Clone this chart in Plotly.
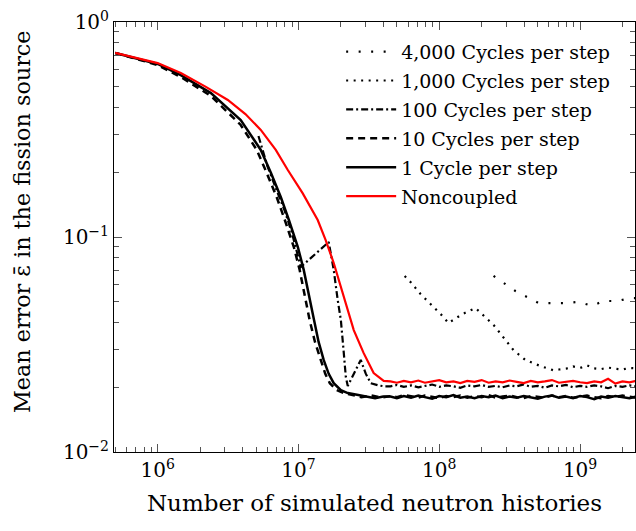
import plotly.graph_objects as go

# ---------------- data ----------------
floor_x = [4.5e7, 5.0e7, 5.6e7, 6.3e7, 7.1e7, 7.9e7, 8.9e7, 1.0e8, 1.12e8, 1.26e8,
           1.41e8, 1.58e8, 1.78e8, 2.0e8, 2.24e8, 2.51e8, 2.82e8, 3.16e8, 3.55e8, 3.98e8,
           4.47e8, 5.01e8, 5.62e8, 6.31e8, 7.08e8, 7.94e8, 8.91e8, 1.0e9, 1.12e9, 1.26e9,
           1.41e9, 1.58e9, 1.78e9, 2.0e9, 2.24e9, 2.5e9]

# Noncoupled
noncoupled_x = [5e5, 1e6, 1.46e6, 2.2e6, 3.15e6, 4.2e6, 5.4e6, 6.9e6, 8.4e6, 1.07e7,
                1.37e7, 1.56e7, 1.78e7, 2.09e7, 2.47e7, 2.9e7, 3.42e7, 4.03e7] + floor_x
noncoupled_y = [0.718, 0.644, 0.579, 0.499, 0.434, 0.373, 0.315, 0.254, 0.205, 0.160,
                0.120, 0.0968, 0.0757, 0.0526, 0.0369, 0.0289, 0.0233, 0.0214,
                0.0213, 0.0210, 0.0214, 0.0211, 0.0215, 0.0210, 0.0213, 0.0216, 0.0211, 0.0213,
                0.0209, 0.0214, 0.0212, 0.0216, 0.0210, 0.0213, 0.0211, 0.0215, 0.0212, 0.0209,
                0.0214, 0.0211, 0.0213, 0.0216, 0.0210, 0.0212, 0.0214, 0.0211, 0.0209, 0.0213,
                0.0211, 0.0219, 0.0208, 0.0213, 0.0211, 0.0214]

# 1 cycle per step
c1_x = [5e5, 1e6, 1.46e6, 2.39e6, 3.89e6, 5.4e6, 6.37e6, 7.5e6, 8.55e6, 9.9e6,
        1.09e7, 1.18e7, 1.29e7, 1.39e7, 1.51e7, 1.64e7, 1.78e7, 2.0e7, 2.24e7, 2.55e7,
        3.0e7, 3.5e7, 4.0e7] + floor_x
c1_y = [0.718, 0.638, 0.566, 0.467, 0.350, 0.254, 0.199, 0.153, 0.120, 0.0898,
        0.0703, 0.0537, 0.0411, 0.0325, 0.0268, 0.0231, 0.0209, 0.0194, 0.0188, 0.0185,
        0.0182, 0.0178, 0.0181,
        0.0181, 0.0178, 0.0182, 0.0179, 0.0183, 0.0180, 0.0177, 0.0182, 0.0180, 0.0184,
        0.0179, 0.0181, 0.0178, 0.0182, 0.0180, 0.0183, 0.0178, 0.0181, 0.0179, 0.0182,
        0.0180, 0.0177, 0.0181, 0.0183, 0.0179, 0.0181, 0.0178, 0.0182, 0.0180, 0.0176,
        0.0181, 0.0179, 0.0182, 0.0180, 0.0178, 0.0181]

# 10 cycles per step
c10_x = [5e5, 1e6, 1.46e6, 2.39e6, 3.89e6, 5.06e6, 5.96e6, 7.01e6, 8.0e6, 9.27e6,
         1.02e7, 1.11e7, 1.2e7, 1.31e7, 1.44e7, 1.55e7, 1.67e7, 1.87e7, 2.1e7, 2.4e7,
         2.8e7, 3.3e7, 3.9e7] + floor_x
c10_y = [0.718, 0.631, 0.555, 0.453, 0.332, 0.254, 0.198, 0.153, 0.120, 0.0898,
         0.0703, 0.0537, 0.0411, 0.0325, 0.0268, 0.0231, 0.0209, 0.0194, 0.0188, 0.0184,
         0.0180, 0.0183, 0.0179,
         0.0182, 0.0180, 0.0184, 0.0181, 0.0179, 0.0183, 0.0181, 0.0178, 0.0182, 0.0180,
         0.0183, 0.0179, 0.0182, 0.0180, 0.0184, 0.0179, 0.0181, 0.0183, 0.0180, 0.0178,
         0.0182, 0.0181, 0.0179, 0.0183, 0.0180, 0.0182, 0.0179, 0.0181, 0.0183, 0.0180,
         0.0178, 0.0182, 0.0180, 0.0183, 0.0181, 0.0179]

# 100 cycles per step
c100_x = [5.2e6, 6e6, 7e6, 8e6, 9e6, 1.04e7, 1.64e7, 1.78e7, 1.9e7, 2.0e7,
          2.09e7, 2.17e7, 2.24e7, 2.5e7, 2.77e7, 3.0e7, 3.26e7, 3.7e7, 4.1e7] + floor_x
c100_y = [0.295, 0.215, 0.165, 0.132, 0.104, 0.0725, 0.0948, 0.0703, 0.0509, 0.0411,
          0.0298, 0.0223, 0.0203, 0.0235, 0.0268, 0.0232, 0.0209, 0.0204, 0.0202,
          0.0202, 0.0205, 0.0201, 0.0204, 0.0200, 0.0203, 0.0206, 0.0201, 0.0204, 0.0202,
          0.0199, 0.0204, 0.0202, 0.0205, 0.0201, 0.0203, 0.0200, 0.0204, 0.0202, 0.0206,
          0.0201, 0.0203, 0.0199, 0.0204, 0.0202, 0.0205, 0.0200, 0.0203, 0.0201, 0.0204,
          0.0202, 0.0198, 0.0203, 0.0201, 0.0204, 0.0202]

# 1,000 cycles per step
c1000_x = [5.68e7, 6.25e7, 7.36e7, 8.95e7, 1.07e8, 1.16e8, 1.46e8, 1.81e8, 2.24e8, 2.43e8,
           3.36e8, 4.09e8, 5.23e8, 6.46e8, 7.08e8, 7.94e8, 8.91e8, 1.0e9, 1.12e9, 1.26e9,
           1.41e9, 1.58e9, 1.78e9, 2.0e9, 2.24e9, 2.5e9]
c1000_y = [0.0659, 0.0617, 0.0543, 0.0478, 0.0425, 0.0398, 0.0438, 0.0467, 0.0411, 0.0390,
           0.0298, 0.0268, 0.0251, 0.0240, 0.0242, 0.0244, 0.0250, 0.0246, 0.0253, 0.0245,
           0.0243, 0.0247, 0.0244, 0.0242, 0.0246, 0.0245]

# 4,000 cycles per step
c4000_x = [2.43e8, 3.47e8, 5.07e8, 7.87e8, 9.73e8, 1.22e9, 1.46e9, 1.84e9, 2.27e9, 2.5e9]
c4000_y = [0.0659, 0.0561, 0.0493, 0.0493, 0.0499, 0.0478, 0.0504, 0.0504, 0.0520, 0.0520]

x_tickvals = [1e6, 1e7, 1e8, 1e9]
x_ticktext = ["10<sup>6</sup>", "10<sup>7</sup>", "10<sup>8</sup>", "10<sup>9</sup>"]
y_tickvals = [1e-2, 1e-1, 1]
y_ticktext = ["10<sup>−2</sup>", "10<sup>−1</sup>", "10<sup>0</sup>"]

# minor tick positions (2..9 times each decade)
x_minor = [m * 10.0 ** e for e in range(5, 10) for m in range(2, 10)]
y_minor = [m * 10.0 ** e for e in range(-2, 0) for m in range(2, 10)]

X_RANGE = [5.69, 9.39]
Y_RANGE = [-2, 0]

# ---------------- figure ----------------
FONT = "DejaVu Serif"
fig = go.Figure()

series = [
    ("4,000 Cycles per step", c4000_x, c4000_y, "black", 2.2, "2px,10.5px"),
    ("1,000 Cycles per step", c1000_x, c1000_y, "black", 2.2, "2px,5.5px"),
    ("100 Cycles per step", c100_x, c100_y, "black", 2.2, "7px,3px,2px,3px"),
    ("10 Cycles per step", c10_x, c10_y, "black", 2.5, "7px,5px"),
    ("1 Cycle per step", c1_x, c1_y, "black", 2.5, "solid"),
    ("Noncoupled", noncoupled_x, noncoupled_y, "#ff0000", 2.2, "solid"),
]
for name, xs, ys, col, w, dash in series:
    fig.add_trace(go.Scatter(x=xs, y=ys, name=name, mode="lines", legendgroup=name,
                             line=dict(color=col, width=w, dash=dash)))

# empty helper trace so that the top/right mirror axes get drawn
fig.add_trace(go.Scatter(x=[], y=[], xaxis="x2", yaxis="y2", mode="lines",
                         showlegend=False, hoverinfo="skip"))

TICK = dict(ticks="inside", ticklen=8, tickwidth=1, tickcolor="#555555",
            showline=True, linecolor="black", linewidth=1,
            showgrid=False, zeroline=False)


def minor(vals):
    return dict(ticks="inside", ticklen=5, tickwidth=1, tickcolor="#555555",
                tickmode="array", tickvals=vals, showgrid=False)


fig.update_layout(
    template="none",
    width=636, height=531,
    margin=dict(l=114, r=1, t=22, b=79),
    paper_bgcolor="white", plot_bgcolor="white",
    font=dict(family=FONT, color="black"),
    showlegend=True,
    legend=dict(x=0.436, y=0.975, xanchor="left", yanchor="top",
                bgcolor="rgba(255,255,255,0)", borderwidth=0,
                font=dict(family=FONT, size=19, color="black"),
                itemwidth=50, tracegroupgap=1.2),
    xaxis=dict(type="log", range=X_RANGE, tickmode="array", tickvals=x_tickvals,
               ticktext=x_ticktext, minor=minor(x_minor), mirror=True,
               tickfont=dict(family=FONT, size=20, color="black"),
               title=dict(text="Number of simulated neutron histories",
                          font=dict(family=FONT, size=23), standoff=13), **TICK),
    yaxis=dict(type="log", range=Y_RANGE, tickmode="array", tickvals=y_tickvals,
               ticktext=y_ticktext, minor=minor(y_minor), mirror=True,
               tickfont=dict(family=FONT, size=20, color="black"), **TICK),
    # mirrored ticks on top and right
    xaxis2=dict(type="log", range=X_RANGE, overlaying="x", side="top", anchor="y2",
                tickmode="array", tickvals=x_tickvals, showticklabels=False,
                minor=minor(x_minor), **TICK),
    yaxis2=dict(type="log", range=Y_RANGE, overlaying="y", side="right", anchor="x2",
                tickmode="array", tickvals=y_tickvals, showticklabels=False,
                minor=minor(y_minor), **TICK),
    annotations=[dict(text="Mean error ε̄ in the fission source",
                      xref="paper", yref="paper", x=-0.1766, y=0.537,
                      xanchor="center", yanchor="middle", textangle=-90,
                      showarrow=False, font=dict(family=FONT, size=22.3, color="black"))],
)

fig.write_html("out.html")
